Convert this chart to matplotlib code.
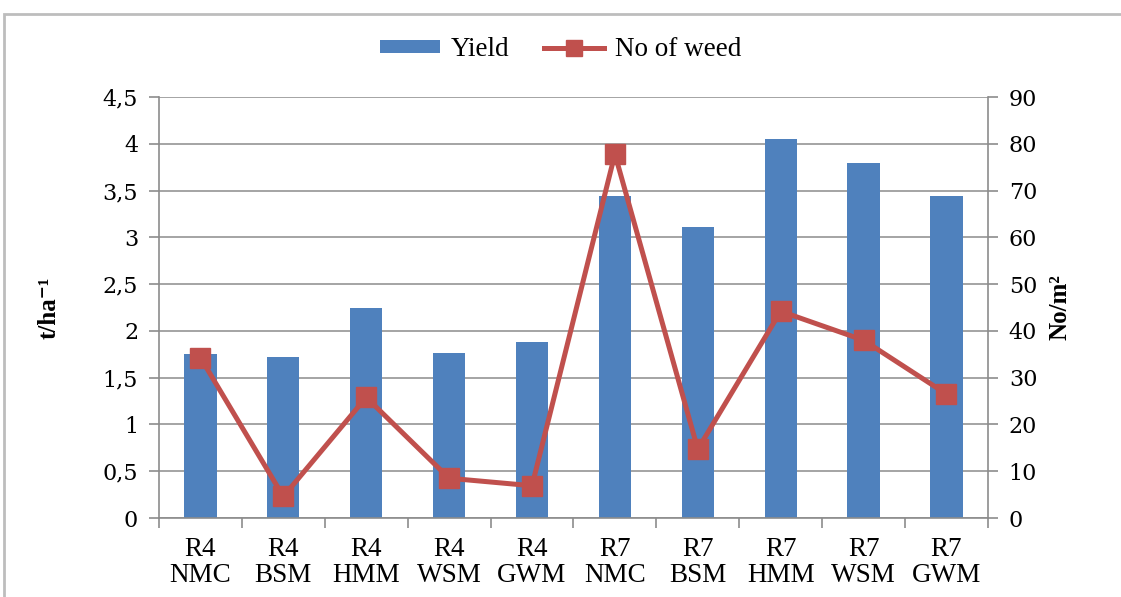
import numpy as np
import matplotlib.pyplot as plt
from matplotlib.patches import Rectangle
from matplotlib.ticker import FuncFormatter

categories = ['R4\nNMC', 'R4\nBSM', 'R4\nHMM', 'R4\nWSM', 'R4\nGWM',
              'R7\nNMC', 'R7\nBSM', 'R7\nHMM', 'R7\nWSM', 'R7\nGWM']
yield_t = [1.75, 1.72, 2.25, 1.76, 1.88, 3.44, 3.11, 4.05, 3.80, 3.44]
weeds = [34.3, 4.6, 25.8, 8.5, 6.9, 77.8, 14.7, 44.2, 38.0, 26.5]

serif = ['Liberation Serif', 'DejaVu Serif']
blue = '#4F81BD'
red = '#C0504D'
grey = '#8c8c8c'

fig = plt.figure(figsize=(11.21, 5.97), dpi=100)
ax = fig.add_axes([0.1418, 0.1323, 0.7395, 0.7052])
ax2 = ax.twinx()

x = np.arange(len(categories))
ax.bar(x, yield_t, width=0.39, color=blue, label='Yield', zorder=2)
ax2.plot(x, weeds, color=red, lw=3.6, marker='s', ms=15, label='No of weed', zorder=3)

ax.set_xlim(-0.5, len(categories) - 0.5)
ax.set_ylim(0, 4.5)
ax2.set_ylim(0, 90)
ax.set_yticks(np.arange(0, 4.51, 0.5))
ax2.set_yticks(np.arange(0, 91, 10))
ax.yaxis.set_major_formatter(FuncFormatter(lambda v, p: ('%g' % v).replace('.', ',')))

ax.set_xticks(x)
ax.set_xticklabels(categories, fontfamily=serif, fontsize=19.5, linespacing=1.05)
ax.set_xticks(np.arange(-0.5, len(categories), 1), minor=True)
ax.tick_params(axis='x', which='major', length=0, pad=14)
ax.tick_params(axis='x', which='minor', length=7, color=grey, width=1.2, direction='out')

ax.grid(axis='y', color=grey, lw=1.1, zorder=0)
ax.set_axisbelow(True)
for a in (ax, ax2):
    for s in a.spines.values():
        s.set_visible(False)
ax.spines['left'].set_visible(True)
ax.spines['bottom'].set_visible(True)
ax2.spines['right'].set_visible(True)
for s in (ax.spines['left'], ax.spines['bottom'], ax2.spines['right']):
    s.set_color(grey)
    s.set_linewidth(1.2)

for a in (ax, ax2):
    a.tick_params(axis='y', length=7, color=grey, width=1.2, labelsize=16, pad=8)
    for lab in a.get_yticklabels():
        lab.set_fontfamily('DejaVu Serif')

ax.set_ylabel('t/ha⁻¹', fontfamily=serif, fontsize=18, fontweight='bold', labelpad=30)
ax2.set_ylabel('No/m²', fontfamily=serif, fontsize=18, fontweight='bold', labelpad=8)

h1, l1 = ax.get_legend_handles_labels()
h2, l2 = ax2.get_legend_handles_labels()
leg = fig.legend(h1 + h2, l1 + l2, loc='center', bbox_to_anchor=(0.5, 0.917), ncol=2,
                 frameon=False, prop={'family': serif, 'size': 19.5}, handlelength=2.2,
                 handleheight=0.4, columnspacing=1.3, handletextpad=0.4)
leg.legend_handles[1].set_markersize(11)

fig.patches.append(Rectangle((0.004, -0.05), 1.1, 1.026, transform=fig.transFigure,
                             fill=False, edgecolor='#bdbdbd', lw=2))

fig.savefig('out.png', dpi=100)
